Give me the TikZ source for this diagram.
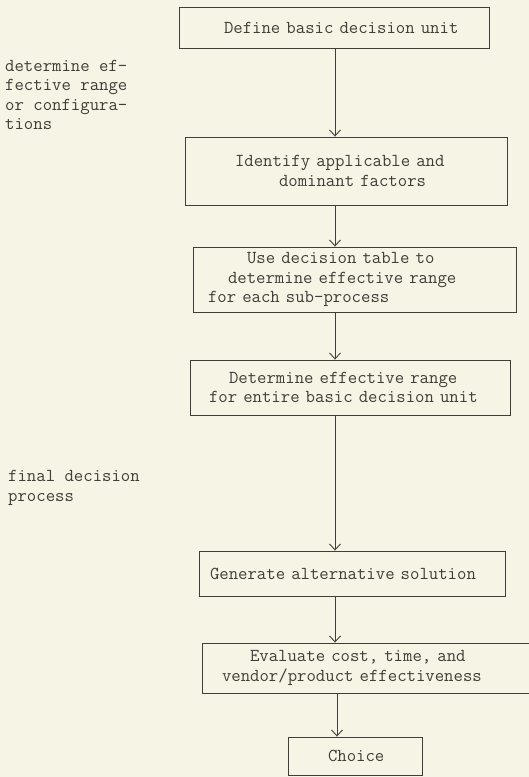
\documentclass[tikz,border=0pt]{standalone}
\usepackage{fontspec}
\usetikzlibrary{arrows.meta}
\definecolor{paper}{RGB}{246,244,228}
\definecolor{ink}{RGB}{62,62,58}
\newcommand\tind[1]{\hspace*{#1pt}}
\begin{document}
\begin{tikzpicture}[x=1pt,y=-1pt,
  typew/.style={font=\ttfamily\fontsize{18.25}{19.5}\selectfont, text=ink},
  box/.style={draw=ink, line width=0.9pt, rectangle, inner sep=0pt, align=left, typew},
  lbl/.style={anchor=west, align=left, inner sep=0pt, typew},
  arr/.style={draw=ink, line width=0.9pt, -{Straight Barb[length=6pt,width=11pt]}}]
\clip (0,0) rectangle (529,777);
\fill[paper] (0,0) rectangle (529,777);
% boxes
\node[box, minimum width=310pt, minimum height=41pt, text width=310pt] (b1) at (334,27.5)
  {\tind{45}Define basic decision unit};
\node[box, minimum width=322pt, minimum height=68pt, text width=322pt] (b2) at (346,171)
  {\tind{50}Identify applicable and\\\tind{94}dominant factors};
\node[box, minimum width=323pt, minimum height=65pt, text width=323pt] (b3) at (354.5,279.5)
  {\tind{54}Use decision table to\\\tind{35}determine effective range\\\tind{15}for each sub-process};
\node[box, minimum width=320pt, minimum height=55pt, text width=320pt] (b4) at (350,387.5)
  {\tind{39}Determine effective range\\\tind{19}for entire basic decision unit};
\node[box, minimum width=306pt, minimum height=45pt, text width=306pt] (b5) at (352,573.5)
  {\tind{11}Generate alternative solution};
\node[box, minimum width=333pt, minimum height=50pt, text width=333pt] (b6) at (368.5,668)
  {\tind{48}Evaluate cost, time, and\\\tind{20}vendor/product effectiveness};
\node[box, minimum width=134pt, minimum height=38pt, text width=134pt] (b7) at (355,756)
  {\tind{40}Choice};
% side labels
\node[lbl] (l1) at (5,95) {determine ef-\\fective range\\or configura-\\tions};
\node[lbl] (l2) at (8,488) {final decision\\process};
% connectors
\coordinate (ax) at (335,0);
\coordinate (ay) at (337,0);
\draw[arr] (b1.south -| ax) -- (b2.north -| ax);
\draw[arr] (b2.south -| ax) -- (b3.north -| ax);
\draw[arr] (b3.south -| ax) -- (b4.north -| ax);
\draw[arr] (b4.south -| ax) -- (b5.north -| ax);
\draw[arr] (b5.south -| ax) -- (b6.north -| ax);
\draw[arr] (b6.south -| ay) -- (b7.north -| ay);
\end{tikzpicture}
\end{document}
